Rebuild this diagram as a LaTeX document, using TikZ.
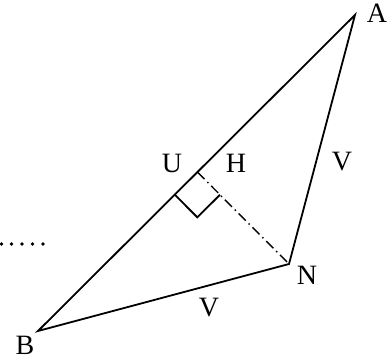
\documentclass[tikz,border=0pt]{standalone}
\usepackage{fontspec}
\setmainfont{Liberation Serif}
\usetikzlibrary{calc}
\begin{document}
\begin{tikzpicture}[x=1pt,y=1pt,
  edge/.style={line width=1.8pt},
  lbl/.style={font=\fontsize{28}{30}\selectfont, inner sep=0pt}]
\useasboundingbox (0,0) rectangle (392,362);
\coordinate (A) at (355,347);
\coordinate (B) at (38,31);
\coordinate (N) at (289,98);
\coordinate (H) at ($(A)!(N)!(B)$);
\draw[edge, line join=miter] (A) -- (B) -- (N) -- cycle;
\draw[line width=1.4pt, dash pattern=on 10pt off 4pt on 1.5pt off 4pt] (H) -- (N);
\coordinate (M1) at ($(H)!32pt!(B)$);
\coordinate (M2) at ($(H)!32pt!(N)$);
\coordinate (M3) at ($(M1)+(M2)-(H)$);
\draw[edge] (M1) -- (M3) -- (M2);
\node[lbl] (la) at (377,349) {A};
\node[lbl] (lb) at (25,17) {B};
\node[lbl] (ln) at (307,87) {N};
\node[lbl] (lu) at (172,199) {U};
\node[lbl] (lh) at (236,199) {H};
\node[lbl] (lv1) at (342,200) {V};
\node[lbl] (lv2) at (209,54) {V};
\foreach \x in {1.5,11.5,22,32.5,43}
  \fill (\x,118) circle (1.8pt);
\end{tikzpicture}
\end{document}
